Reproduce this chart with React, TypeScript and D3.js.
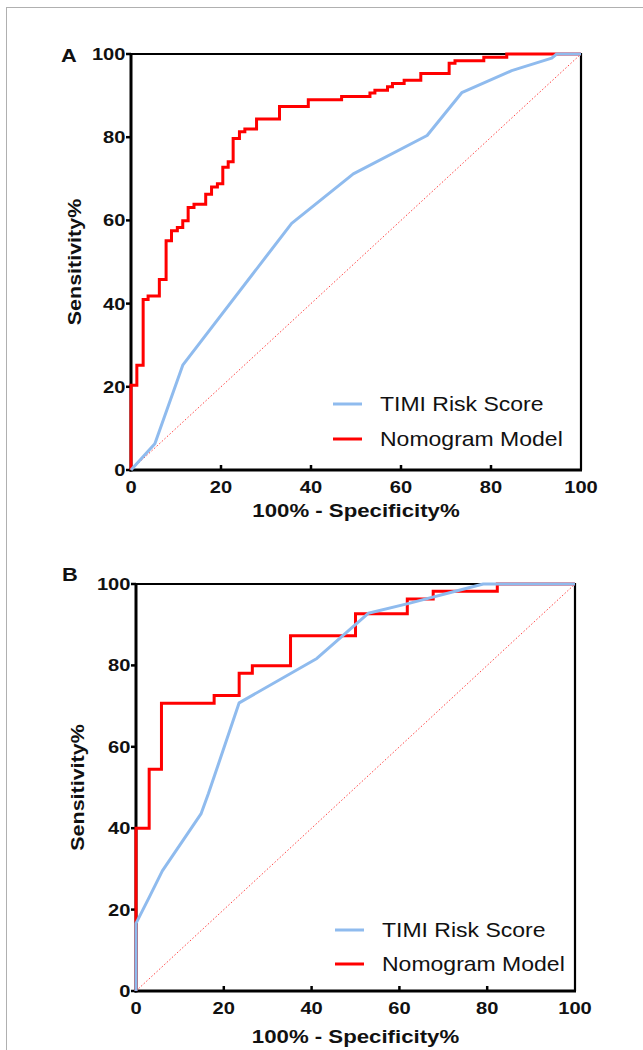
import React from 'react';
import * as d3 from 'd3';

// tick values shared by both panels
const TICKS = [0, 20, 40, 60, 80, 100];
const SERIES_NAMES = ['TIMI Risk Score', 'Nomogram Model'];

// Panel A — [100% - specificity, sensitivity]
const nomogramA: [number, number][] = [
  [0, 0], [0, 20.4], [1.3, 25.2], [2.7, 41.0], [3.8, 41.8], [6.3, 45.8], [7.8, 55.1],
  [9.0, 57.5], [10.3, 58.3], [11.5, 59.9], [12.7, 63.1], [14.0, 63.9], [16.6, 66.3],
  [17.9, 68.0], [19.2, 68.8], [20.4, 72.8], [21.6, 74.1], [22.7, 79.7], [24.1, 81.3],
  [25.3, 82.0], [27.9, 84.4], [33.0, 87.4], [39.4, 89.0], [46.8, 89.8], [53.1, 90.6],
  [54.2, 91.3], [57.0, 92.1], [58.1, 92.9], [60.7, 93.7], [64.4, 95.3], [70.7, 97.8],
  [72.0, 98.4], [78.4, 99.2], [83.5, 100], [100, 100],
];
const timiA: [number, number][] = [
  [0, 0], [5.3, 6.3], [11.5, 25.2], [35.7, 59.3], [49.4, 71.2], [65.8, 80.4],
  [73.5, 90.7], [84.6, 96.0], [93.5, 99.0], [94.6, 100], [100, 100],
];

// Panel B
const nomogramB: [number, number][] = [
  [0, 0], [0, 40.0], [3.0, 54.5], [5.8, 70.7], [17.8, 72.6], [23.5, 78.1], [26.5, 79.9],
  [35.2, 87.3], [50.0, 92.7], [61.8, 96.3], [67.7, 98.2], [82.3, 100], [100, 100],
];
const timiB: [number, number][] = [
  [0, 0], [0, 16.6], [3.0, 23.0], [6.0, 29.5], [14.8, 43.5], [16.5, 48.5], [23.5, 70.8],
  [41.2, 81.7], [52.9, 92.8], [62.4, 95.3], [72.3, 98.1], [79.1, 100], [100, 100],
];

const FONT = '"Liberation Sans", Arial, Helvetica, sans-serif';
const RED = '#ff0000';
const BLUE = '#8fbbee';

type PanelProps = {
  label: string;
  nomogram: [number, number][];
  timi: [number, number][];
  box: { left: number; right: number; top: number; bottom: number };
  labelPos: [number, number];
  legendX: number;
  legendY: number[];
  xTitleGap: number;
  yTitleX: number;
};

function Panel({ label, nomogram, timi, box, labelPos, legendX, legendY, xTitleGap, yTitleX }: PanelProps) {
  const x = d3.scaleLinear().domain([0, 100]).range([box.left, box.right]);
  const y = d3.scaleLinear().domain([0, 100]).range([box.bottom, box.top]);

  const stepLine = d3.line<[number, number]>()
    .x(d => x(d[0]))
    .y(d => y(d[1]))
    .curve(d3.curveStepAfter);
  const polyLine = d3.line<[number, number]>()
    .x(d => x(d[0]))
    .y(d => y(d[1]));

  const midX = (box.left + box.right) / 2;
  const midY = (box.top + box.bottom) / 2;

  return (
    <g fontFamily={FONT}>
      {/* frame: thin top/right, heavier axes */}
      <line x1={x(0)} x2={x(100)} y1={y(100)} y2={y(100)} stroke="#000" strokeWidth={2.2} />
      <line x1={x(100)} x2={x(100)} y1={y(100) - 1} y2={y(0)} stroke="#000" strokeWidth={2.2} />
      <line x1={x(0)} x2={x(0)} y1={y(100) - 1} y2={y(0) + 1.5} stroke="#000" strokeWidth={3} />
      <line x1={x(0) - 1.5} x2={x(100) + 1} y1={y(0)} y2={y(0)} stroke="#000" strokeWidth={3} />

      {TICKS.map(t => (
        <g key={'y' + t}>
          <line x1={x(0) - 5} x2={x(0)} y1={y(t)} y2={y(t)} stroke="#000" strokeWidth={2.5} />
          <text transform={`translate(${x(0) - 5.5},${y(t) + 6}) scale(1.22,1)`} textAnchor="end"
            fontSize={16.5} fontWeight="bold" fill="#111">{t}</text>
        </g>
      ))}
      {TICKS.map(t => (
        <g key={'x' + t}>
          {t > 0 && t < 100 && (
            <line x1={x(t)} x2={x(t)} y1={y(0)} y2={y(0) - 5} stroke="#000" strokeWidth={2.5} />
          )}
          <text transform={`translate(${x(t)},${y(0) + 22.5}) scale(1.22,1)`} textAnchor="middle"
            fontSize={16.5} fontWeight="bold" fill="#111">{t}</text>
        </g>
      ))}

      {/* reference diagonal */}
      <line x1={x(0)} y1={y(0)} x2={x(100)} y2={y(100)} stroke="#ff4444" strokeWidth={1}
        strokeDasharray="1.5 2" />

      <path d={stepLine(nomogram) || ''} fill="none" stroke={RED} strokeWidth={3} strokeLinejoin="miter" />
      <path d={polyLine(timi) || ''} fill="none" stroke={BLUE} strokeWidth={3} strokeLinejoin="round" />

      {/* legend */}
      {[BLUE, RED].map((c, i) => (
        <g key={c}>
          <line x1={legendX} x2={legendX + 29} y1={legendY[i]} y2={legendY[i]} stroke={c} strokeWidth={3} />
          <text transform={`translate(${legendX + 47},${legendY[i] + 7}) scale(1.15,1)`}
            fontSize={20} fill="#111">{SERIES_NAMES[i]}</text>
        </g>
      ))}

      {/* axis titles */}
      <text transform={`translate(${midX},${y(0) + xTitleGap}) scale(1.17,1)`} textAnchor="middle"
        fontSize={19} fontWeight="bold" fill="#111">100% - Specificity%</text>
      <text transform={`translate(${yTitleX},${midY}) rotate(-90) scale(1.13,1)`} textAnchor="middle"
        fontSize={19} fontWeight="bold" fill="#111">Sensitivity%</text>

      <text transform={`translate(${labelPos[0]},${labelPos[1]}) scale(1.15,1)`}
        fontSize={19} fontWeight="bold" fill="#111">{label}</text>
    </g>
  );
}

export default function App() {
  return (
    <svg width={643} height={1050} style={{ position: 'absolute', left: 0, top: 0, background: '#fff' }}>
      <rect x={0} y={0} width={643} height={1050} fill="#fff" />
      <rect x={6.5} y={7.5} width={700} height={1100} fill="none" stroke="#b0b0b0" strokeWidth={1} />
      <Panel
        label="A"
        nomogram={nomogramA}
        timi={timiA}
        box={{ left: 131, right: 581, top: 54, bottom: 470 }}
        labelPos={[61, 62]}
        legendX={333}
        legendY={[404, 439]}
        xTitleGap={47}
        yTitleX={81}
      />
      <Panel
        label="B"
        nomogram={nomogramB}
        timi={timiB}
        box={{ left: 136, right: 575, top: 584, bottom: 991 }}
        labelPos={[62, 581]}
        legendX={335}
        legendY={[930, 964]}
        xTitleGap={52}
        yTitleX={84}
      />
    </svg>
  );
}
